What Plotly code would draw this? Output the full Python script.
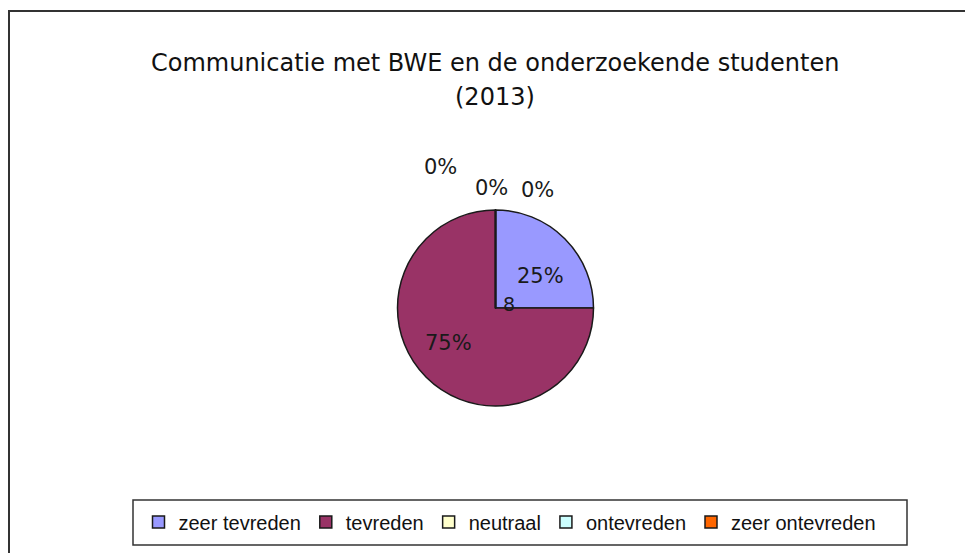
import plotly.graph_objects as go

# antwoorden (aantallen)
labels = ["zeer tevreden", "tevreden", "neutraal", "ontevreden", "zeer ontevreden"]
values = [2, 6, 0, 0, 0]
colors = ["#9999FF", "#993366", "#FFFFCC", "#CCFFFF", "#FF6600"]

W, H = 973, 553
OFF = 8  # page margin around the plot div


def px(x):
    return (x - OFF) / W


def py(y):
    return 1 - (y - OFF) / H


# where the percentage texts sit (screen pixels)
label_px = [(540, 276), (448, 343), (440, 167), (491, 188), (537, 190)]

total = sum(values)
pct = [f"{round(100 * v / total)}%" for v in values]

fig = go.Figure()
fig.add_trace(go.Pie(
    labels=labels,
    values=values,
    marker=dict(colors=colors, line=dict(color="#1a1a1a", width=1.5)),
    sort=False,
    direction="clockwise",
    rotation=0,
    textinfo="none",
    hoverinfo="label+percent",
    domain=dict(x=[px(397), px(594)], y=[py(406), py(210)]),
))

for t, (x, y) in zip(pct, label_px):
    fig.add_annotation(x=px(x), y=py(y), xref="paper", yref="paper", text=t,
                       xanchor="center", yanchor="middle",
                       showarrow=False, font=dict(size=21, color="#1a1a1a"))

# stray "8" in the middle of the pie
fig.add_annotation(x=px(509), y=py(304), xref="paper", yref="paper", text=str(total),
                   xanchor="center", yanchor="middle",
                   showarrow=False, font=dict(size=19, color="#1a1a1a"))

# title, two lines
fig.add_annotation(x=px(495), y=py(63), xref="paper", yref="paper",
                   text="Communicatie met BWE en de onderzoekende studenten",
                   xanchor="center", yanchor="middle",
                   showarrow=False, font=dict(size=24, color="#111111"))
fig.add_annotation(x=px(495), y=py(97), xref="paper", yref="paper", text="(2013)",
                   xanchor="center", yanchor="middle",
                   showarrow=False, font=dict(size=24, color="#111111"))

# outer border
fig.add_shape(type="rect", xref="paper", yref="paper", x0=px(9), x1=px(969), y0=-0.05, y1=py(11),
              line=dict(color="#333333", width=2))
# legend box
fig.add_shape(type="rect", xref="paper", yref="paper", x0=px(133), x1=px(907), y0=py(545), y1=py(500),
              line=dict(color="#333333", width=1.5))

fig.update_layout(
    width=W,
    height=H,
    margin=dict(l=0, r=0, t=0, b=0),
    paper_bgcolor="white",
    plot_bgcolor="white",
    font=dict(family="DejaVu Sans, Liberation Sans, Arial, sans-serif", color="#111111"),
    showlegend=True,
    legend=dict(
        orientation="h",
        x=px(510), xanchor="center",
        y=py(522), yanchor="middle",
        borderwidth=0,
        bgcolor="rgba(0,0,0,0)",
        font=dict(family="Liberation Sans, Arial, sans-serif", size=20, color="#111111"),
        itemwidth=30,
        traceorder="normal",
    ),
)

fig.write_html("out.html")
